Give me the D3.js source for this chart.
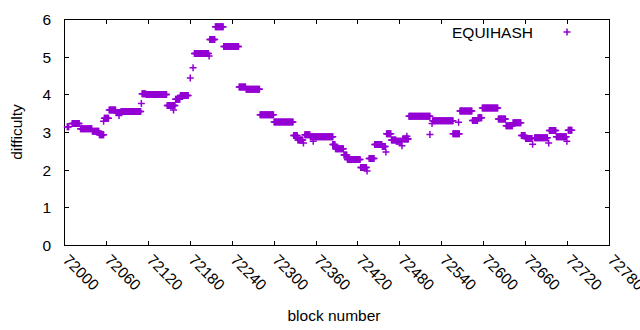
<!DOCTYPE html>
<html>
<head>
<meta charset="utf-8">
<script src="https://d3js.org/d3.v7.min.js"></script>
<style>
  body { margin: 0; background: #fff; }
  text { font-family: "Liberation Sans", Arial, sans-serif; font-size: 15.5px; fill: #000; }
</style>
</head>
<body>
<div id="my_dataviz"></div>
<script>
// data: [first block, last block, difficulty], one point per block
var segments = [
  [72004, 72006, 3.15],
  [72011, 72021, 3.24],
  [72023, 72039, 3.10],
  [72040, 72049, 3.03],
  [72050, 72056, 2.94],
  [72056, 72056, 3.30],
  [72057, 72063, 3.38],
  [72064, 72073, 3.60],
  [72074, 72080, 3.53],
  [72078, 72078, 3.45],
  [72081, 72109, 3.56],
  [72110, 72110, 3.77],
  [72111, 72116, 4.03],
  [72117, 72146, 4.01],
  [72147, 72158, 3.72],
  [72156, 72156, 3.60],
  [72159, 72165, 3.88],
  [72166, 72177, 3.98],
  [72180, 72180, 4.45],
  [72184, 72184, 4.72],
  [72186, 72206, 5.10],
  [72207, 72207, 5.03],
  [72208, 72215, 5.47],
  [72216, 72227, 5.81],
  [72228, 72249, 5.28],
  [72250, 72259, 4.21],
  [72260, 72279, 4.15],
  [72280, 72299, 3.47],
  [72300, 72327, 3.28],
  [72328, 72333, 2.92],
  [72334, 72341, 2.80],
  [72342, 72342, 2.72],
  [72344, 72351, 2.94],
  [72352, 72384, 2.89],
  [72356, 72356, 2.77],
  [72384, 72387, 2.68],
  [72388, 72399, 2.57],
  [72400, 72404, 2.40],
  [72405, 72423, 2.28],
  [72424, 72432, 2.07],
  [72433, 72433, 1.98],
  [72436, 72443, 2.31],
  [72444, 72454, 2.68],
  [72455, 72459, 2.63],
  [72460, 72460, 2.48],
  [72461, 72467, 2.97],
  [72468, 72474, 2.80],
  [72475, 72482, 2.77],
  [72483, 72483, 2.65],
  [72484, 72492, 2.83],
  [72490, 72490, 2.90],
  [72493, 72523, 3.43],
  [72523, 72523, 2.95],
  [72526, 72526, 3.24],
  [72527, 72556, 3.31],
  [72556, 72565, 2.97],
  [72564, 72564, 3.27],
  [72566, 72583, 3.57],
  [72584, 72591, 3.32],
  [72592, 72597, 3.39],
  [72598, 72620, 3.65],
  [72621, 72631, 3.36],
  [72632, 72641, 3.18],
  [72642, 72653, 3.26],
  [72654, 72659, 2.92],
  [72660, 72669, 2.84],
  [72670, 72670, 2.69],
  [72673, 72691, 2.86],
  [72693, 72693, 2.72],
  [72694, 72703, 3.05],
  [72704, 72718, 2.89],
  [72719, 72719, 2.77],
  [72721, 72726, 3.06]
];

var xTicks = [72000, 72060, 72120, 72180, 72240, 72300, 72360, 72420, 72480, 72540, 72600, 72660, 72720, 72780];
var yTicks = [0, 1, 2, 3, 4, 5, 6];
var seriesName = "EQUIHASH";
var xLabel = "block number";
var yLabel = "difficulty";

// flatten segments into points
var points = [];
segments.forEach(function(s) {
  for (var b = s[0]; b <= s[1]; b++) points.push({block: b, difficulty: s[2]});
});

var W = 640, H = 330;
var plot = {left: 64.5, right: 609.5, top: 19.5, bottom: 245.5};
var color = "#9400d3";

var svg = d3.select("#my_dataviz")
  .append("svg")
    .attr("width", W)
    .attr("height", H);

var x = d3.scaleLinear().domain([72000, 72780]).range([plot.left, plot.right]);
var y = d3.scaleLinear().domain([0, 6]).range([plot.bottom, plot.top]);

// ticks, mirrored on all four sides, pointing inward
var tickLen = 4.5;
var ticks = svg.append("g").attr("stroke", "#000").attr("stroke-width", 1).attr("shape-rendering", "crispEdges");
xTicks.forEach(function(t) {
  var px = Math.round(x(t) - 0.5) + 0.5;
  ticks.append("line").attr("x1", px).attr("x2", px).attr("y1", plot.bottom).attr("y2", plot.bottom - tickLen);
  ticks.append("line").attr("x1", px).attr("x2", px).attr("y1", plot.top).attr("y2", plot.top + tickLen);
});
yTicks.forEach(function(t) {
  var py = Math.round(y(t) - 0.5) + 0.5;
  ticks.append("line").attr("x1", plot.left).attr("x2", plot.left + tickLen).attr("y1", py).attr("y2", py);
  ticks.append("line").attr("x1", plot.right).attr("x2", plot.right - tickLen).attr("y1", py).attr("y2", py);
});

// border
svg.append("rect")
  .attr("x", plot.left).attr("y", plot.top)
  .attr("width", plot.right - plot.left).attr("height", plot.bottom - plot.top)
  .attr("fill", "none").attr("stroke", "#000").attr("stroke-width", 1)
  .attr("shape-rendering", "crispEdges");

// y tick labels
svg.append("g").selectAll("text")
  .data(yTicks)
  .enter()
  .append("text")
    .attr("x", 51)
    .attr("y", function(d) { return y(d); })
    .attr("dy", "0.36em")
    .attr("text-anchor", "end")
    .text(function(d) { return d; });

// x tick labels, rotated
svg.append("g").selectAll("text")
  .data(xTicks)
  .enter()
  .append("text")
    .attr("transform", function(d) { return "translate(" + (x(d) + 1.5) + ",257) rotate(45)"; })
    .attr("dy", "0.36em")
    .attr("text-anchor", "start")
    .text(function(d) { return d; });

// axis titles
svg.append("text")
  .attr("x", 334)
  .attr("y", 321)
  .attr("text-anchor", "middle")
  .text(xLabel);
svg.append("text")
  .attr("transform", "translate(22,132) rotate(-90)")
  .attr("text-anchor", "middle")
  .text(yLabel);

// plus markers
var plus = function(cx, cy) {
  var s = 3.5;
  return "M" + (cx - s) + "," + cy + "h" + (2 * s) + "M" + cx + "," + (cy - s) + "v" + (2 * s);
};

svg.append("g")
  .selectAll("path")
  .data(points)
  .enter()
  .append("path")
    .attr("d", function(d) { return plus(x(d.block), y(d.difficulty)); })
    .attr("stroke", color)
    .attr("stroke-width", 1.5)
    .attr("fill", "none");

// key
svg.append("text")
  .attr("x", 533)
  .attr("y", 32)
  .attr("dy", "0.36em")
  .attr("text-anchor", "end")
  .text(seriesName);
svg.append("path")
  .attr("d", plus(567, 32))
  .attr("stroke", color)
  .attr("stroke-width", 1.5)
  .attr("fill", "none");
</script>
</body>
</html>
